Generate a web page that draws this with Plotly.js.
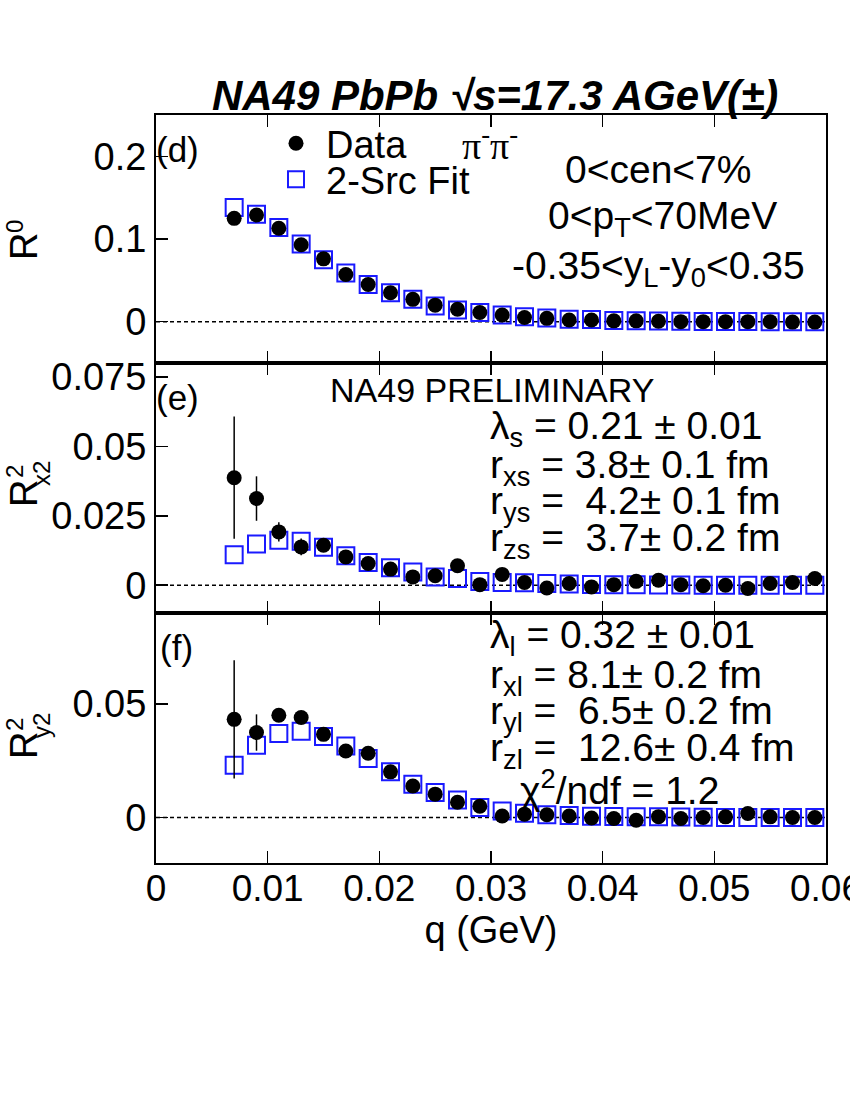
<!DOCTYPE html>
<html>
<head>
<meta charset="utf-8">
<script src="https://cdn.plot.ly/plotly-3.0.1.min.js"></script>
<style>html,body{margin:0;padding:0;background:#fff;}#plot{width:850px;height:1100px;}</style>
</head>
<body>
<div id="plot"></div>
<script>
// q values (GeV)
var q = [0.007, 0.009, 0.011, 0.013, 0.015, 0.017, 0.019, 0.021, 0.023, 0.025, 0.027, 0.029, 0.031, 0.033,
         0.035, 0.037, 0.039, 0.041, 0.043, 0.045, 0.047, 0.049, 0.051, 0.053, 0.055, 0.057, 0.059];

// panel (d): R^0
var r0Data = [0.125, 0.129, 0.113, 0.093, 0.076, 0.057, 0.045, 0.035, 0.027, 0.020, 0.015, 0.011, 0.008, 0.005,
              0.004, 0.002, 0.002, 0.001, 0.001, 0.0005, 0, 0, 0, 0, 0, -0.0005, -0.0005];
var r0Fit  = [0.138, 0.130, 0.114, 0.094, 0.075, 0.059, 0.045, 0.035, 0.027, 0.019, 0.014, 0.011, 0.008, 0.006,
              0.0045, 0.003, 0.0025, 0.0015, 0.001, 0.0008, 0.0005, 0.0003, 0.0002, 0.0001, 0, 0, 0];

// panel (e): R^2_x2
var rx2Data = [0.0387, 0.0312, 0.0192, 0.0138, 0.0144, 0.0102, 0.0078, 0.0058, 0.0030, 0.0034, 0.0070, 0.0002, 0.0039, 0.0010,
               -0.0010, 0.0006, -0.0006, 0.0002, 0.0014, 0.0018, 0.0002, -0.0002, 0.0000, -0.0012, 0.0006, 0.0010, 0.0024];
var rx2Err  = [0.022, 0.008, 0.0035, 0.003, 0.002, 0.0015, 0.0015, 0.0015, 0.0015, 0.0015, 0.0015, 0.0015, 0.0015, 0.0015,
               0.0015, 0.0015, 0.0015, 0.0015, 0.0015, 0.0015, 0.0015, 0.0015, 0.0015, 0.0015, 0.0015, 0.0015, 0.0015];
var rx2Fit  = [0.0110, 0.0148, 0.0162, 0.0158, 0.0137, 0.0106, 0.0082, 0.0063, 0.0048, 0.0030, 0.0024, 0.0013, 0.0010, 0.0009,
               0.0006, 0.0004, 0.0003, 0.0002, 0.0002, 0.0001, 0.0001, 0, 0, 0, 0, 0, 0];

// panel (f): R^2_y2
var ry2Data = [0.0432, 0.0374, 0.0450, 0.0440, 0.0366, 0.0293, 0.0283, 0.0201, 0.0139, 0.0103, 0.0067, 0.0050, 0.0007, 0.0015,
               0.0012, 0.0007, -0.0002, -0.0004, -0.0012, 0.0004, -0.0004, 0.0000, 0.0003, 0.0018, 0.0003, 0.0000, 0.0000];
var ry2Err  = [0.026, 0.008, 0.003, 0.002, 0.0015, 0.0015, 0.0015, 0.0015, 0.0015, 0.0015, 0.0015, 0.0015, 0.0015, 0.0015,
               0.0015, 0.0015, 0.0015, 0.0015, 0.0015, 0.0015, 0.0015, 0.0015, 0.0015, 0.0015, 0.0015, 0.0015, 0.0015];
var ry2Fit  = [0.0230, 0.0318, 0.0370, 0.0380, 0.0357, 0.0315, 0.0260, 0.0201, 0.0147, 0.0110, 0.0077, 0.0044, 0.0029, 0.0019,
               0.0012, 0.0009, 0.0006, 0.0005, 0.0004, 0.0003, 0.0002, 0.0001, 0, 0, 0, 0, 0];

var xTicks = [0, 0.01, 0.02, 0.03, 0.04, 0.05, 0.06];
var xTickText = ['0', '0.01', '0.02', '0.03', '0.04', '0.05', '0.06'];

var FONT = 'Liberation Sans, Arial, Helvetica, sans-serif';
var BLUE = '#1a1aff';

var circ = {symbol: 'circle', size: 15, color: '#000'};
var sq = {symbol: 'square-open', size: 17, color: BLUE, line: {width: 2, color: BLUE}};

function fitTrace(y, xa, ya, show) {
  return {x: q, y: y, xaxis: xa, yaxis: ya, type: 'scatter', mode: 'markers', name: '2-Src Fit',
          marker: sq, showlegend: show, legend: 'legend2', cliponaxis: false};
}
function dataTrace(y, err, xa, ya, show) {
  var t = {x: q, y: y, xaxis: xa, yaxis: ya, type: 'scatter', mode: 'markers', name: 'Data',
           marker: circ, showlegend: show, legend: 'legend', cliponaxis: false};
  if (err) t.error_y = {type: 'data', array: err, visible: true, color: '#000', thickness: 1.5, width: 0};
  return t;
}

var traces = [
  fitTrace(r0Fit, 'x3', 'y3', true), dataTrace(r0Data, null, 'x3', 'y3', true),
  fitTrace(rx2Fit, 'x2', 'y2', false), dataTrace(rx2Data, rx2Err, 'x2', 'y2', false),
  fitTrace(ry2Fit, 'x', 'y', false), dataTrace(ry2Data, ry2Err, 'x', 'y', false)
];

var L = 156, R = 826, T = 115, B = 863, W = 850, H = 1100;
function px(x) { return (x - L) / (R - L); }
function py(y) { return (B - y) / (B - T); }
var d1 = (863 - 613) / 748, d2 = (863 - 363) / 748;

function xax(anchor, labels) {
  var a = {anchor: anchor, range: [0, 0.0600001], tickvals: xTicks, ticktext: xTickText, showticklabels: labels,
          ticks: 'inside', ticklen: 12, tickwidth: 1.5, tickcolor: '#000', showline: true, linewidth: 2,
          linecolor: '#000', mirror: 'ticks', showgrid: false, zeroline: false, ticklabelstandoff: -8,
          ticklabeloverflow: 'allow',
          tickfont: {family: FONT, size: 37, color: '#000'}};
  if (anchor !== 'y') a.matches = 'x';
  return a;
}
function yax(domain, range, vals, text) {
  return {domain: domain, range: range, tickvals: vals, ticktext: text, ticks: 'inside', ticklen: 12,
          tickwidth: 1.5, tickcolor: '#000', showline: true, linewidth: 2, linecolor: '#000', mirror: true,
          showgrid: false, zeroline: false, ticklabelstandoff: 0,
          tickfont: {family: FONT, size: 38, color: '#000'}};
}

var xa1 = xax('y', true);
xa1.title = {text: 'q (GeV)', font: {family: FONT, size: 38, color: '#000'}, standoff: 2};

function ann(text, x, y, xanchor, size, extra) {
  var a = {xref: 'paper', yref: 'paper', x: px(x), y: py(y), text: text, showarrow: false,
           xanchor: xanchor, yanchor: 'middle', font: {family: FONT, size: size || 38, color: '#000'}};
  if (extra) for (var k in extra) a[k] = extra[k];
  return a;
}

var annotations = [
  ann('(d)', 154, 150, 'left', 35),
  ann('π<sup>-</sup>π<sup>-</sup>', 460, 143, 'left', 38, {font: {family: 'Liberation Serif, Times New Roman, serif', size: 38, color: '#000'}}),
  ann('0<cen<7%', 658, 170, 'center', 39),
  ann('0<p<sub>T</sub><70MeV', 662, 218, 'center', 39),
  ann('-0.35<y<sub>L</sub>-y<sub>0</sub><0.35', 658, 268, 'center', 39),
  ann('(e)', 154, 398, 'left', 35),
  ann('NA49 PRELIMINARY', 492, 390, 'center', 34),
  ann('λ<sub>s</sub> = 0.21 ± 0.01', 488, 428, 'left', 39),
  ann('r<sub>xs</sub> = 3.8± 0.1 fm', 488, 467, 'left', 39),
  ann('r<sub>ys</sub> =  4.2± 0.1 fm', 488, 503, 'left', 39),
  ann('r<sub>zs</sub> =  3.7± 0.2 fm', 488, 540, 'left', 39),
  ann('(f)', 158, 647, 'left', 35),
  ann('λ<sub>l</sub> = 0.32 ± 0.01', 488, 637, 'left', 39),
  ann('r<sub>xl</sub> = 8.1± 0.2 fm', 488, 677, 'left', 39),
  ann('r<sub>yl</sub> =  6.5± 0.2 fm', 488, 713, 'left', 39),
  ann('r<sub>zl</sub> =  12.6± 0.4 fm', 488, 750, 'left', 39),
  ann('χ<sup>2</sup>/ndf = 1.2', 518, 787, 'left', 39),
  // y-axis titles (R with stacked super/subscripts)
  ann('R', 24, 247, 'center', 38, {textangle: -90}),
  ann('0', 14, 227, 'center', 24, {textangle: -90}),
  ann('R', 24, 494, 'center', 38, {textangle: -90}),
  ann('2', 14, 472, 'center', 24, {textangle: -90}),
  ann('x2', 41, 474, 'center', 24, {textangle: -90}),
  ann('R', 24, 746, 'center', 38, {textangle: -90}),
  ann('2', 14, 725, 'center', 24, {textangle: -90}),
  ann('y2', 41, 726, 'center', 24, {textangle: -90})
];

var shapes = [['y', 'x'], ['y2', 'x2'], ['y3', 'x3']].map(function (p) {
  return {type: 'line', xref: p[1], yref: p[0], x0: 0, x1: 0.06, y0: 0, y1: 0,
          line: {color: '#000', width: 1.5, dash: '4px,3px'}, layer: 'below'};
});

var legFont = {family: FONT, size: 38, color: '#000'};
var layout = {
  width: W, height: H,
  margin: {l: L, r: W - R, t: T, b: H - B},
  paper_bgcolor: '#fff', plot_bgcolor: '#fff',
  font: {family: FONT, color: '#000'},
  title: {text: '<b><i>NA49 PbPb √s=17.3 AGeV(±)</i></b>', x: 495 / W, xanchor: 'center',
          y: 1 - 95 / H, yanchor: 'middle', font: {family: FONT, size: 42, color: '#000'}},
  xaxis: xa1, xaxis2: xax('y2', false), xaxis3: xax('y3', false),
  yaxis: yax([0, d1], [-0.02, 0.09], [0, 0.05], ['0', '0.05']),
  yaxis2: yax([d1, d2], [-0.01, 0.08], [0, 0.025, 0.05, 0.075], ['0', '0.025', '0.05', '0.075']),
  yaxis3: yax([d2, 1], [-0.05, 0.25], [0, 0.1, 0.2], ['0', '0.1', '0.2']),
  showlegend: true,
  legend: {x: px(266), y: py(112), xanchor: 'left', yanchor: 'top', bgcolor: 'rgba(0,0,0,0)',
           font: legFont, itemsizing: 'trace', itemwidth: 50},
  legend2: {x: px(266), y: py(148), xanchor: 'left', yanchor: 'top', bgcolor: 'rgba(0,0,0,0)',
            font: legFont, itemsizing: 'trace', itemwidth: 50},
  annotations: annotations,
  shapes: shapes
};

Plotly.newPlot('plot', traces, layout, {displayModeBar: false, staticPlot: true});
</script>
</body>
</html>
